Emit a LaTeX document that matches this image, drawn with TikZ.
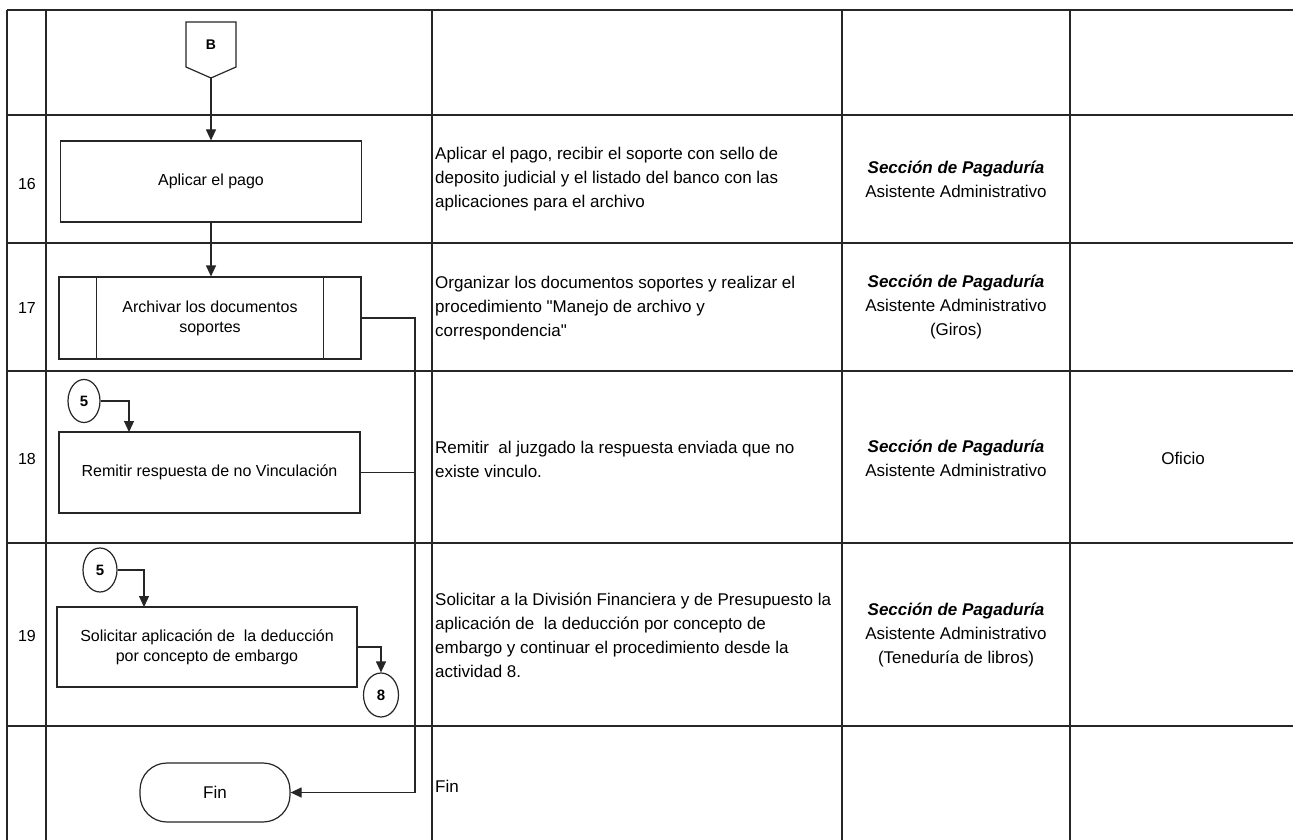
\documentclass[tikz,border=0pt]{standalone}
\usepackage{fontspec}
\setmainfont{Liberation Sans}
\usetikzlibrary{arrows.meta,shapes.geometric}
\begin{document}
\begin{tikzpicture}[x=1pt,y=-1pt,
  gridline/.style={line width=1.7pt, draw=black!85},
  flow/.style={line width=1.2pt, draw=black!85},
  arr/.style={flow, -{Triangle[length=11pt,width=10pt]}},
  proc/.style={draw=black!85, line width=1.2pt, rectangle, inner sep=2pt, align=center, font=\fontsize{16}{20}\selectfont},
  conn/.style={draw=black!85, ellipse, line width=1.2pt, inner sep=0pt, font=\bfseries\fontsize{15}{18}\selectfont},
  desc/.style={anchor=west, inner sep=0pt, align=left, font=\fontsize{17}{24}\selectfont},
  role/.style={inner sep=0pt, align=center, font=\fontsize{17}{24}\selectfont},
  num/.style={inner sep=0pt, font=\fontsize{16}{20}\selectfont}
]
\useasboundingbox (0,0) rectangle (1293,840);
\fill[white] (0,0) rectangle (1293,840);

% table grid
\foreach \yy in {10,115,243,371,543,726} \draw[gridline] (7,\yy) -- (1293,\yy);
\foreach \xx in {7,46,432,842,1070} \draw[gridline] (\xx,10) -- (\xx,840);

% row numbers
\node[num] (n16) at (27,184) {16};
\node[num] (n17) at (27,308) {17};
\node[num] (n18) at (27,459) {18};
\node[num] (n19) at (27,636) {19};

% descriptions
\node[desc] (d16) at (435,179) {Aplicar el pago, recibir el soporte con sello de\\deposito judicial y el listado del banco con las\\aplicaciones para el archivo};
\node[desc] (d17) at (435,308) {Organizar los documentos soportes y realizar el\\procedimiento \textquotedbl Manejo de archivo y\\correspondencia\textquotedbl};
\node[desc] (d18) at (435,459) {Remitir\ \ al juzgado la respuesta enviada que no\\existe vinculo.};
\node[desc] (d19) at (435,635) {Solicitar a la División Financiera y de Presupuesto la\\aplicación de\ \ la deducción por concepto de\\embargo y continuar el procedimiento desde la\\actividad 8.};
\node[desc] (dfin) at (435,786) {Fin};

% roles
\node[role] (r16) at (956,179) {\textbf{\textit{Sección de Pagaduría}}\\Asistente Administrativo};
\node[role] (r17) at (956,307) {\textbf{\textit{Sección de Pagaduría}}\\Asistente Administrativo\\(Giros)};
\node[role] (r18) at (956,458) {\textbf{\textit{Sección de Pagaduría}}\\Asistente Administrativo};
\node[role] (r19) at (956,635) {\textbf{\textit{Sección de Pagaduría}}\\Asistente Administrativo\\(Teneduría de libros)};
\node[role] (reg18) at (1183,458) {Oficio};

% flowchart
\draw[flow] (186,22) -- (236,22) -- (236,67) -- (211,78) -- (186,67) -- cycle;
\node[inner sep=0pt, font=\bfseries\fontsize{14}{16}\selectfont] (B) at (211,45) {B};
\coordinate (Btip) at (211,78);

\node[proc, minimum width=301pt, minimum height=81pt] (b16) at (211,181.5) {Aplicar el pago};
\node[proc, minimum width=302pt, minimum height=82pt] (b17) at (210,318) {Archivar los documentos\\soportes};
\draw[flow] ([xshift=38pt]b17.north west) -- ([xshift=38pt]b17.south west);
\draw[flow] ([xshift=-38pt]b17.north east) -- ([xshift=-38pt]b17.south east);
\node[proc, minimum width=301pt, minimum height=81pt] (b18) at (209.5,472.5) {Remitir respuesta de no Vinculación};
\node[proc, minimum width=300pt, minimum height=80pt] (b19) at (207,647) {Solicitar aplicación de\ \ la deducción\\por concepto de embargo};

\node[conn, minimum width=32pt, minimum height=43pt] (c5a) at (84,401) {5};
\node[conn, minimum width=34pt, minimum height=44pt] (c5b) at (100,570) {5};
\node[conn, minimum width=35pt, minimum height=44pt] (c8) at (381,695) {8};

\node[draw=black!85, line width=1.2pt, rounded corners=27pt, minimum width=150pt, minimum height=59pt, inner sep=0pt, font=\fontsize{17}{20}\selectfont] (fin) at (215,792.5) {Fin};

\coordinate (t18) at (129,432);
\coordinate (t19) at (144,607);
\coordinate (jn) at (415,473);

\draw[arr] (Btip) -- (Btip |- b16.north);
\draw[arr] (b16.south -| Btip) -- (b17.north -| Btip);
\draw[flow] (b17.east) -| (jn);
\draw[arr] (c5a.east) -| (t18);
\draw[arr] (b18.east) -- (b18.east -| jn) |- (fin.east);
\draw[arr] (c5b.east) -| (t19);
\draw[arr] (b19.east) -| (c8.north);
\end{tikzpicture}
\end{document}
